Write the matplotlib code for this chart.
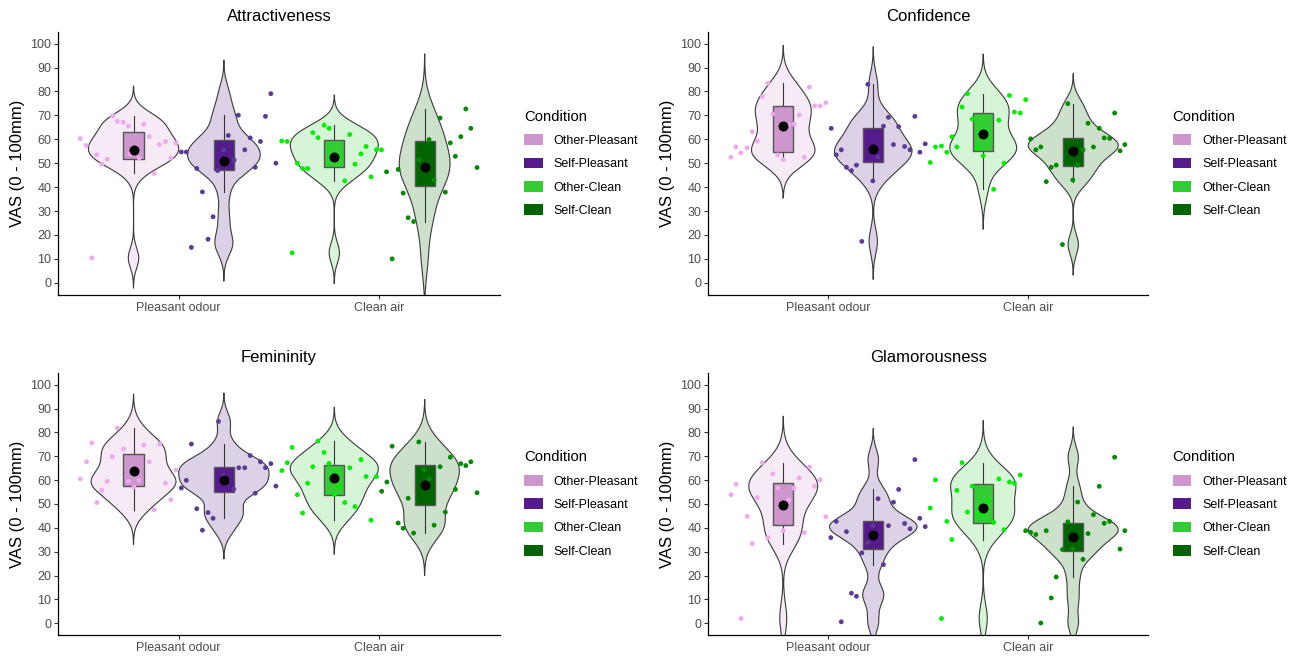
import numpy as np
import matplotlib
matplotlib.use("Agg")
import matplotlib.pyplot as plt
from matplotlib.patches import Patch, Rectangle

plt.rcParams['font.family'] = ['Liberation Sans', 'DejaVu Sans']

conditions = ["Other-Pleasant", "Self-Pleasant", "Other-Clean", "Self-Clean"]
box_colours = ["#CD96CD", "#551A8B", "#32CD32", "#006400"]
point_colours = ["#EEAAEE", "#5A3C96", "#00EE00", "#008B00"]
odours = ["Pleasant odour", "Clean air"]
panel_titles = ["Attractiveness", "Confidence", "Femininity", "Glamorousness"]

att_op = [60.3, 57.4, 53.5, 49.6, 51.7, 10.4, 69.8, 67.5, 67.1, 65.5, 53.9, 52.2, 66.3, 61.1, 57.8, 59.1, 58.5, 52.1, 45.7]
att_op_dx = [-0.266, -0.236, -0.183, -0.158, -0.131, -0.208, -0.105, -0.081, -0.051, -0.025, -0.017, 0.028, 0.051, 0.078, 0.128, 0.159, 0.211, 0.186, 0.103]
att_sp = [54.7, 54.7, 47.8, 38.0, 27.6, 18.2, 14.8, 46.9, 55.6, 61.6, 51.3, 70.1, 55.6, 60.6, 48.3, 59.1, 69.6, 79.1, 50.0]
att_sp_dx = [-0.212, -0.187, -0.135, -0.107, -0.054, -0.079, -0.162, -0.031, -0.002, 0.022, 0.051, 0.072, 0.104, 0.131, 0.156, 0.182, 0.207, 0.234, 0.259]
att_oc = [59.3, 59.1, 12.5, 50.0, 47.8, 47.8, 62.8, 60.7, 65.9, 64.6, 52.6, 42.6, 62.0, 49.6, 53.9, 57.0, 44.3, 55.6, 55.6]
att_oc_dx = [-0.262, -0.235, -0.210, -0.184, -0.158, -0.133, -0.107, -0.081, -0.051, -0.026, 0.026, 0.052, 0.077, 0.103, 0.133, 0.158, 0.183, 0.210, 0.235]
att_sc = [46.4, 10.0, 47.4, 37.5, 27.2, 25.6, 51.5, 48.3, 59.9, 43.0, 68.9, 37.9, 58.5, 52.9, 61.1, 72.7, 64.6, 48.2]
att_sc_dx = [-0.190, -0.162, -0.132, -0.107, -0.082, -0.055, -0.029, -0.004, 0.022, 0.047, 0.077, 0.103, 0.128, 0.153, 0.180, 0.205, 0.230, 0.261]

con_op = [52.5, 56.8, 54.3, 56.4, 63.2, 59.3, 77.9, 83.4, 70.6, 53.5, 51.5, 65.9, 66.3, 70.1, 52.5, 81.8, 74.0, 74.0, 75.3]
con_op_dx = [-0.262, -0.237, -0.212, -0.180, -0.155, -0.130, -0.105, -0.077, -0.052, -0.027, 0.000, 0.027, 0.054, 0.080, 0.105, 0.131, 0.157, 0.184, 0.213]
con_sp = [64.6, 53.5, 55.6, 48.3, 46.9, 49.2, 17.3, 83.0, 42.6, 52.6, 65.5, 69.2, 57.8, 65.3, 57.0, 55.6, 69.6, 54.6, 58.1]
con_sp_dx = [-0.210, -0.185, -0.160, -0.134, -0.109, -0.084, -0.057, -0.027, -0.002, 0.024, 0.051, 0.076, 0.101, 0.127, 0.157, 0.184, 0.208, 0.233, 0.260]
con_oc = [50.3, 56.8, 57.2, 54.6, 61.1, 56.8, 73.5, 79.1, 68.5, 56.4, 53.1, 61.1, 39.1, 68.0, 50.0, 78.3, 71.4, 71.0, 76.6]
con_oc_dx = [-0.265, -0.239, -0.209, -0.182, -0.157, -0.132, -0.106, -0.079, -0.055, -0.028, 0.000, 0.027, 0.052, 0.078, 0.104, 0.131, 0.156, 0.185, 0.212]
con_sc = [60.2, 55.6, 56.8, 42.3, 48.3, 49.2, 16.0, 74.9, 43.0, 49.2, 55.6, 66.7, 56.8, 64.6, 60.6, 60.4, 71.0, 55.2, 57.8]
con_sc_dx = [-0.213, -0.187, -0.162, -0.135, -0.110, -0.085, -0.054, -0.027, -0.002, 0.022, 0.049, 0.074, 0.101, 0.130, 0.155, 0.182, 0.207, 0.234, 0.258]

fem_op = [60.5, 67.7, 75.6, 50.6, 55.7, 59.5, 69.8, 81.8, 73.0, 59.5, 57.1, 59.9, 74.7, 67.7, 47.5, 75.1, 58.7, 51.8, 64.2]
fem_op_dx = [-0.265, -0.234, -0.208, -0.183, -0.158, -0.131, -0.106, -0.081, -0.050, -0.025, 0.002, 0.027, 0.051, 0.078, 0.103, 0.130, 0.159, 0.186, 0.211]
fem_sp = [56.7, 59.9, 75.1, 48.0, 39.0, 46.4, 44.0, 84.6, 61.9, 59.8, 56.3, 65.2, 65.2, 70.3, 54.5, 67.7, 65.2, 66.9, 57.5]
fem_sp_dx = [-0.212, -0.187, -0.162, -0.135, -0.107, -0.079, -0.054, -0.027, -0.002, 0.022, 0.049, 0.074, 0.104, 0.131, 0.156, 0.182, 0.207, 0.234, 0.259]
fem_oc = [64.0, 67.3, 73.7, 53.9, 46.2, 58.7, 65.6, 76.4, 71.6, 67.0, 53.9, 57.4, 50.6, 65.2, 48.9, 68.6, 61.5, 43.2, 61.5]
fem_oc_dx = [-0.261, -0.234, -0.210, -0.184, -0.158, -0.133, -0.107, -0.081, -0.051, -0.026, 0.001, 0.026, 0.052, 0.077, 0.103, 0.133, 0.158, 0.183, 0.210]
fem_sc = [55.3, 59.2, 74.2, 42.0, 39.8, 52.4, 37.8, 76.0, 64.4, 60.6, 41.1, 65.6, 46.6, 69.6, 56.1, 66.9, 66.1, 67.7, 54.7]
fem_sc_dx = [-0.214, -0.188, -0.162, -0.132, -0.107, -0.082, -0.055, -0.029, -0.004, 0.022, 0.047, 0.077, 0.103, 0.128, 0.153, 0.180, 0.205, 0.230, 0.261]

gla_op = [53.9, 58.2, 2.0, 44.8, 33.4, 52.7, 67.3, 35.8, 62.6, 56.7, 38.8, 51.7, 56.6, 60.9, 38.0, 65.5, 57.4, 60.1, 44.6]
gla_op_dx = [-0.261, -0.236, -0.211, -0.180, -0.155, -0.130, -0.105, -0.077, -0.052, -0.027, 0.000, 0.027, 0.054, 0.080, 0.105, 0.131, 0.157, 0.184, 0.213]
gla_sp = [35.9, 42.7, 0.6, 38.4, 12.6, 11.3, 29.5, 33.8, 40.9, 52.2, 24.6, 40.9, 50.7, 56.1, 41.8, 39.6, 68.6, 44.0, 40.5]
gla_sp_dx = [-0.212, -0.185, -0.160, -0.134, -0.109, -0.084, -0.057, -0.027, -0.002, 0.024, 0.051, 0.076, 0.101, 0.127, 0.157, 0.184, 0.208, 0.233, 0.260]
gla_oc = [48.3, 60.1, 2.0, 42.7, 35.1, 55.7, 67.3, 46.6, 57.5, 45.9, 45.7, 51.0, 42.3, 60.5, 39.2, 59.2, 58.7, 62.1]
gla_oc_dx = [-0.265, -0.239, -0.209, -0.182, -0.157, -0.132, -0.106, -0.079, -0.055, -0.027, 0.000, 0.027, 0.052, 0.078, 0.104, 0.131, 0.156, 0.185]
gla_sc = [38.8, 38.1, 37.2, 0.1, 38.8, 10.6, 19.4, 30.9, 42.5, 31.1, 50.8, 26.8, 37.6, 45.5, 57.4, 41.9, 42.7, 69.6, 31.1, 38.8]
gla_sc_dx = [-0.238, -0.213, -0.187, -0.162, -0.135, -0.110, -0.085, -0.054, -0.027, -0.002, 0.022, 0.049, 0.074, 0.101, 0.130, 0.155, 0.182, 0.207, 0.234, 0.258]

# ---- box summaries (order: Other-Pleasant, Self-Pleasant, Other-Clean, Self-Clean)
att_q1 = [51.8, 47.1, 48.3, 40.3]
att_q3 = [63.0, 59.6, 59.6, 59.2]
att_lo = [45.7, 38.0, 42.6, 25.6]
att_hi = [69.8, 70.1, 65.9, 72.7]
att_mean = [55.6, 50.8, 52.8, 48.3]

con_q1 = [54.9, 50.4, 55.3, 48.9]
con_q3 = [73.8, 64.8, 71.2, 60.6]
con_lo = [51.5, 42.6, 39.1, 42.3]
con_hi = [83.4, 83.0, 79.1, 74.9]
con_mean = [65.5, 55.8, 62.4, 55.2]

fem_q1 = [57.5, 55.0, 53.8, 49.4]
fem_q3 = [70.9, 65.6, 66.5, 66.2]
fem_lo = [47.5, 44.0, 43.2, 37.8]
fem_hi = [81.8, 75.1, 76.4, 76.0]
fem_mean = [63.8, 59.9, 60.9, 57.9]

gla_q1 = [41.3, 31.3, 42.2, 30.4]
gla_q3 = [58.9, 42.9, 58.4, 42.0]
gla_lo = [33.4, 24.6, 35.1, 19.4]
gla_hi = [67.3, 56.1, 67.3, 57.4]
gla_mean = [49.7, 37.1, 48.3, 36.3]

panels = [
    ([att_op, att_sp, att_oc, att_sc], [att_op_dx, att_sp_dx, att_oc_dx, att_sc_dx],
     att_q1, att_q3, att_lo, att_hi, att_mean),
    ([con_op, con_sp, con_oc, con_sc], [con_op_dx, con_sp_dx, con_oc_dx, con_sc_dx],
     con_q1, con_q3, con_lo, con_hi, con_mean),
    ([fem_op, fem_sp, fem_oc, fem_sc], [fem_op_dx, fem_sp_dx, fem_oc_dx, fem_sc_dx],
     fem_q1, fem_q3, fem_lo, fem_hi, fem_mean),
    ([gla_op, gla_sp, gla_oc, gla_sc], [gla_op_dx, gla_sp_dx, gla_oc_dx, gla_sc_dx],
     gla_q1, gla_q3, gla_lo, gla_hi, gla_mean),
]

# x position of each condition: odour category +/- dodge
group_x = [1 - 0.225, 1 + 0.225, 2 - 0.225, 2 + 0.225]


def kde(vals):
    # gaussian kde with R's nrd0 bandwidth, tails extended by 3 bw like ggplot
    v = np.asarray(vals, dtype=float)
    n = len(v)
    iqr = np.percentile(v, 75) - np.percentile(v, 25)
    bw = 0.9 * min(v.std(ddof=1), iqr / 1.34) * n ** -0.2
    grid = np.linspace(v.min() - 3 * bw, v.max() + 3 * bw, 512)
    dens = np.exp(-0.5 * ((grid[:, None] - v[None, :]) / bw) ** 2).sum(axis=1)
    dens = dens / (n * bw * np.sqrt(2 * np.pi))
    return grid, dens


def draw_panel(ax, title, scores, offsets, q1, q3, lo, hi, means):
    curves = [kde(s) for s in scores]
    top = max(d.max() for _, d in curves)
    for i, (grid, dens) in enumerate(curves):
        x0 = group_x[i]
        half = dens / top * 0.225
        ax.fill_betweenx(grid, x0 - half, x0 + half, facecolor=box_colours[i],
                         alpha=0.2, edgecolor='none', zorder=1)
        ax.plot(np.r_[x0 - half, (x0 + half)[::-1], x0 - half[0]],
                np.r_[grid, grid[::-1], grid[0]], color='#3a3a3a', lw=0.8, zorder=2)
        ax.plot([x0, x0], [lo[i], hi[i]], color='#333333', lw=0.8, zorder=3)
        ax.add_patch(Rectangle((x0 - 0.05, q1[i]), 0.1, q3[i] - q1[i],
                               facecolor=box_colours[i], edgecolor='#555555',
                               lw=1.0, zorder=4))
        ax.scatter(x0 + np.asarray(offsets[i]), scores[i], s=12, color=point_colours[i],
                   edgecolors='none', zorder=5)
        ax.scatter([x0], [means[i]], s=38, color='black', zorder=6)

    ax.set_xlim(0.4, 2.6)
    ax.set_ylim(-5, 105)
    ax.set_xticks([1, 2])
    ax.set_xticklabels(odours)
    ax.set_yticks(range(0, 101, 10))
    ax.tick_params(axis='both', colors='#333333', length=3, width=0.8,
                   labelsize=9, labelcolor='#4D4D4D', pad=2)
    for side in ['top', 'right']:
        ax.spines[side].set_visible(False)
    for side in ['left', 'bottom']:
        ax.spines[side].set_color('black')
        ax.spines[side].set_linewidth(0.9)
    ax.set_title(title, fontsize=12, pad=8)
    ax.set_ylabel("VAS (0 - 100mm)", fontsize=12, labelpad=4)

    handles = [Patch(facecolor=c, edgecolor='none') for c in box_colours]
    ax.legend(handles, conditions, title="Condition", loc='center left',
              bbox_to_anchor=(1.03, 0.5), frameon=False, fontsize=9,
              title_fontsize=10.7, handlelength=1.45, handleheight=0.95,
              labelspacing=0.85, handletextpad=0.9, alignment='left')


fig = plt.figure(figsize=(13.06, 6.58), dpi=100)
axes_boxes = [
    [0.0446, 0.5521, 0.3382, 0.3997],
    [0.5423, 0.5521, 0.3369, 0.3997],
    [0.0446, 0.0347, 0.3382, 0.3988],
    [0.5423, 0.0347, 0.3369, 0.3988],
]
for box, title, panel in zip(axes_boxes, panel_titles, panels):
    ax = fig.add_axes(box)
    draw_panel(ax, title, *panel)

fig.savefig("out.png", dpi=100)
